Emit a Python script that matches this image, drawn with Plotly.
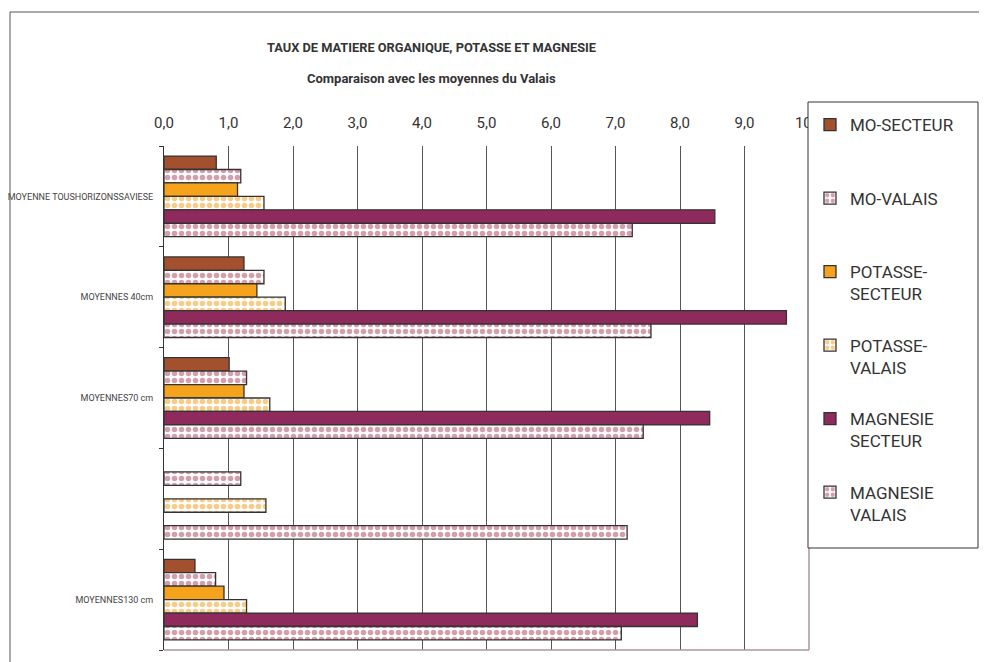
import plotly.graph_objects as go

W, H = 987, 662
OX, OY = 8, 8  # page body margin


def fx(x):
    return (x - OX) / W


def fy(y):
    return 1 - (y - OY) / H


categories = ["MOYENNE TOUSHORIZONSSAVIESE", "MOYENNES 40cm", "MOYENNES70 cm", "", "MOYENNES130 cm"]
positions = [0, 1, 2, 3, 4]

mo_secteur = [0.81, 1.24, 1.01, None, 0.48]
mo_valais = [1.19, 1.55, 1.28, 1.19, 0.80]
potasse_secteur = [1.14, 1.44, 1.24, None, 0.93]
potasse_valais = [1.55, 1.88, 1.64, 1.58, 1.28]
magnesie_secteur = [8.54, 9.65, 8.46, None, 8.27]
magnesie_valais = [7.26, 7.55, 7.43, 7.18, 7.09]

series_names = ["MO-SECTEUR", "MO-VALAIS", "POTASSE-<br>SECTEUR", "POTASSE-<br>VALAIS",
                "MAGNESIE<br>SECTEUR", "MAGNESIE<br>VALAIS"]
series_values = [mo_secteur, mo_valais, potasse_secteur, potasse_valais, magnesie_secteur, magnesie_valais]
series_colors = ["#A3502E", "#A8405A", "#F5A31C", "#F29A0E", "#8E2A5C", "#A8405A"]
series_pattern = [False, True, False, True, False, True]

x_ticks = [0, 1, 2, 3, 4, 5, 6, 7, 8, 9, 10]
x_tick_labels = ["0,0", "1,0", "2,0", "3,0", "4,0", "5,0", "6,0", "7,0", "8,0", "9,0", "10,0"]

FONT = "Roboto, Liberation Sans, DejaVu Sans"

fig = go.Figure()
for i, (name, vals, col, pat) in enumerate(zip(series_names, series_values, series_colors, series_pattern)):
    label = name if "<br>" in name else name + "<br>\u00a0"
    if pat:
        marker = dict(color="white", line=dict(color="#333333", width=1.3),
                      pattern=dict(shape=".", fgcolor=col, bgcolor="white", size=7, solidity=0.5,
                                   fillmode="overlay"))
    else:
        marker = dict(color=col, line=dict(color="#333333", width=1.3))
    fig.add_trace(go.Bar(y=positions, x=vals, orientation="h", name=label, marker=marker,
                         legendgroup="g%d" % i))

x0p, x1p = fx(164), fx(809)
y0p, y1p = fy(650), fy(146)

fig.update_layout(
    width=W, height=H,
    margin=dict(l=0, r=0, t=0, b=0, autoexpand=False),
    paper_bgcolor="white", plot_bgcolor="white",
    barmode="group", bargap=0.2, bargroupgap=0,
    showlegend=True,
    legend=dict(x=fx(810), y=fy(107), xanchor="left", yanchor="top",
                borderwidth=0, bgcolor="rgba(0,0,0,0)",
                font=dict(family=FONT, size=17, color="#333333"),
                valign="top", tracegroupgap=26.3, traceorder="grouped",
                itemwidth=30),
    xaxis=dict(domain=[x0p, x1p], side="top", range=[0, 10], automargin=False,
               tickmode="array", tickvals=x_ticks, ticktext=x_tick_labels,
               showgrid=True, gridcolor="#555555", gridwidth=1,
               zeroline=False, showline=False, ticks="",
               ticklabelstandoff=14,
               tickfont=dict(family=FONT, size=15, color="#333333")),
    yaxis=dict(domain=[y0p, y1p], range=[4.5, -0.5], automargin=False,
               tickmode="array", tickvals=positions, ticktext=categories,
               showgrid=False, zeroline=False, showline=True, linecolor="#333333", linewidth=1,
               ticks="", ticklabelstandoff=8,
               minor=dict(tickmode="array", tickvals=[-0.5, 0.5, 1.5, 2.5, 3.5, 4.5],
                          ticks="outside", ticklen=4, tickcolor="#333333", showgrid=False),
               tickfont=dict(family=FONT, size=9, color="#444444")),
    annotations=[
        dict(text="<b>TAUX DE MATIERE ORGANIQUE, POTASSE ET MAGNESIE</b>", x=fx(431), y=fy(47),
             xref="paper", yref="paper", showarrow=False, xanchor="center", yanchor="middle",
             font=dict(family=FONT, size=12.8, color="#333333")),
        dict(text="<b>Comparaison avec les moyennes du Valais</b>", x=fx(431), y=fy(78),
             xref="paper", yref="paper", showarrow=False, xanchor="center", yanchor="middle",
             font=dict(family=FONT, size=13, color="#333333")),
    ],
    shapes=[
        dict(type="line", xref="paper", yref="paper", x0=fx(10), x1=fx(995), y0=fy(12), y1=fy(12),
             line=dict(color="#555555", width=1)),
        dict(type="line", xref="paper", yref="paper", x0=fx(10), x1=fx(10), y0=fy(12), y1=fy(670),
             line=dict(color="#555555", width=1)),
        dict(type="line", xref="paper", yref="paper", x0=x0p, x1=x1p, y0=y0p, y1=y0p,
             line=dict(color="#A89898", width=1.5)),
        dict(type="line", xref="paper", yref="paper", x0=x1p, x1=x1p, y0=y0p, y1=y1p,
             line=dict(color="#A89898", width=1.5)),
        # legend box
        dict(type="rect", xref="paper", yref="paper", x0=fx(808), x1=fx(978), y0=fy(548), y1=fy(102),
             line=dict(color="#333333", width=1), fillcolor="white", layer="above"),
    ],
)

fig.write_html("out.html")
